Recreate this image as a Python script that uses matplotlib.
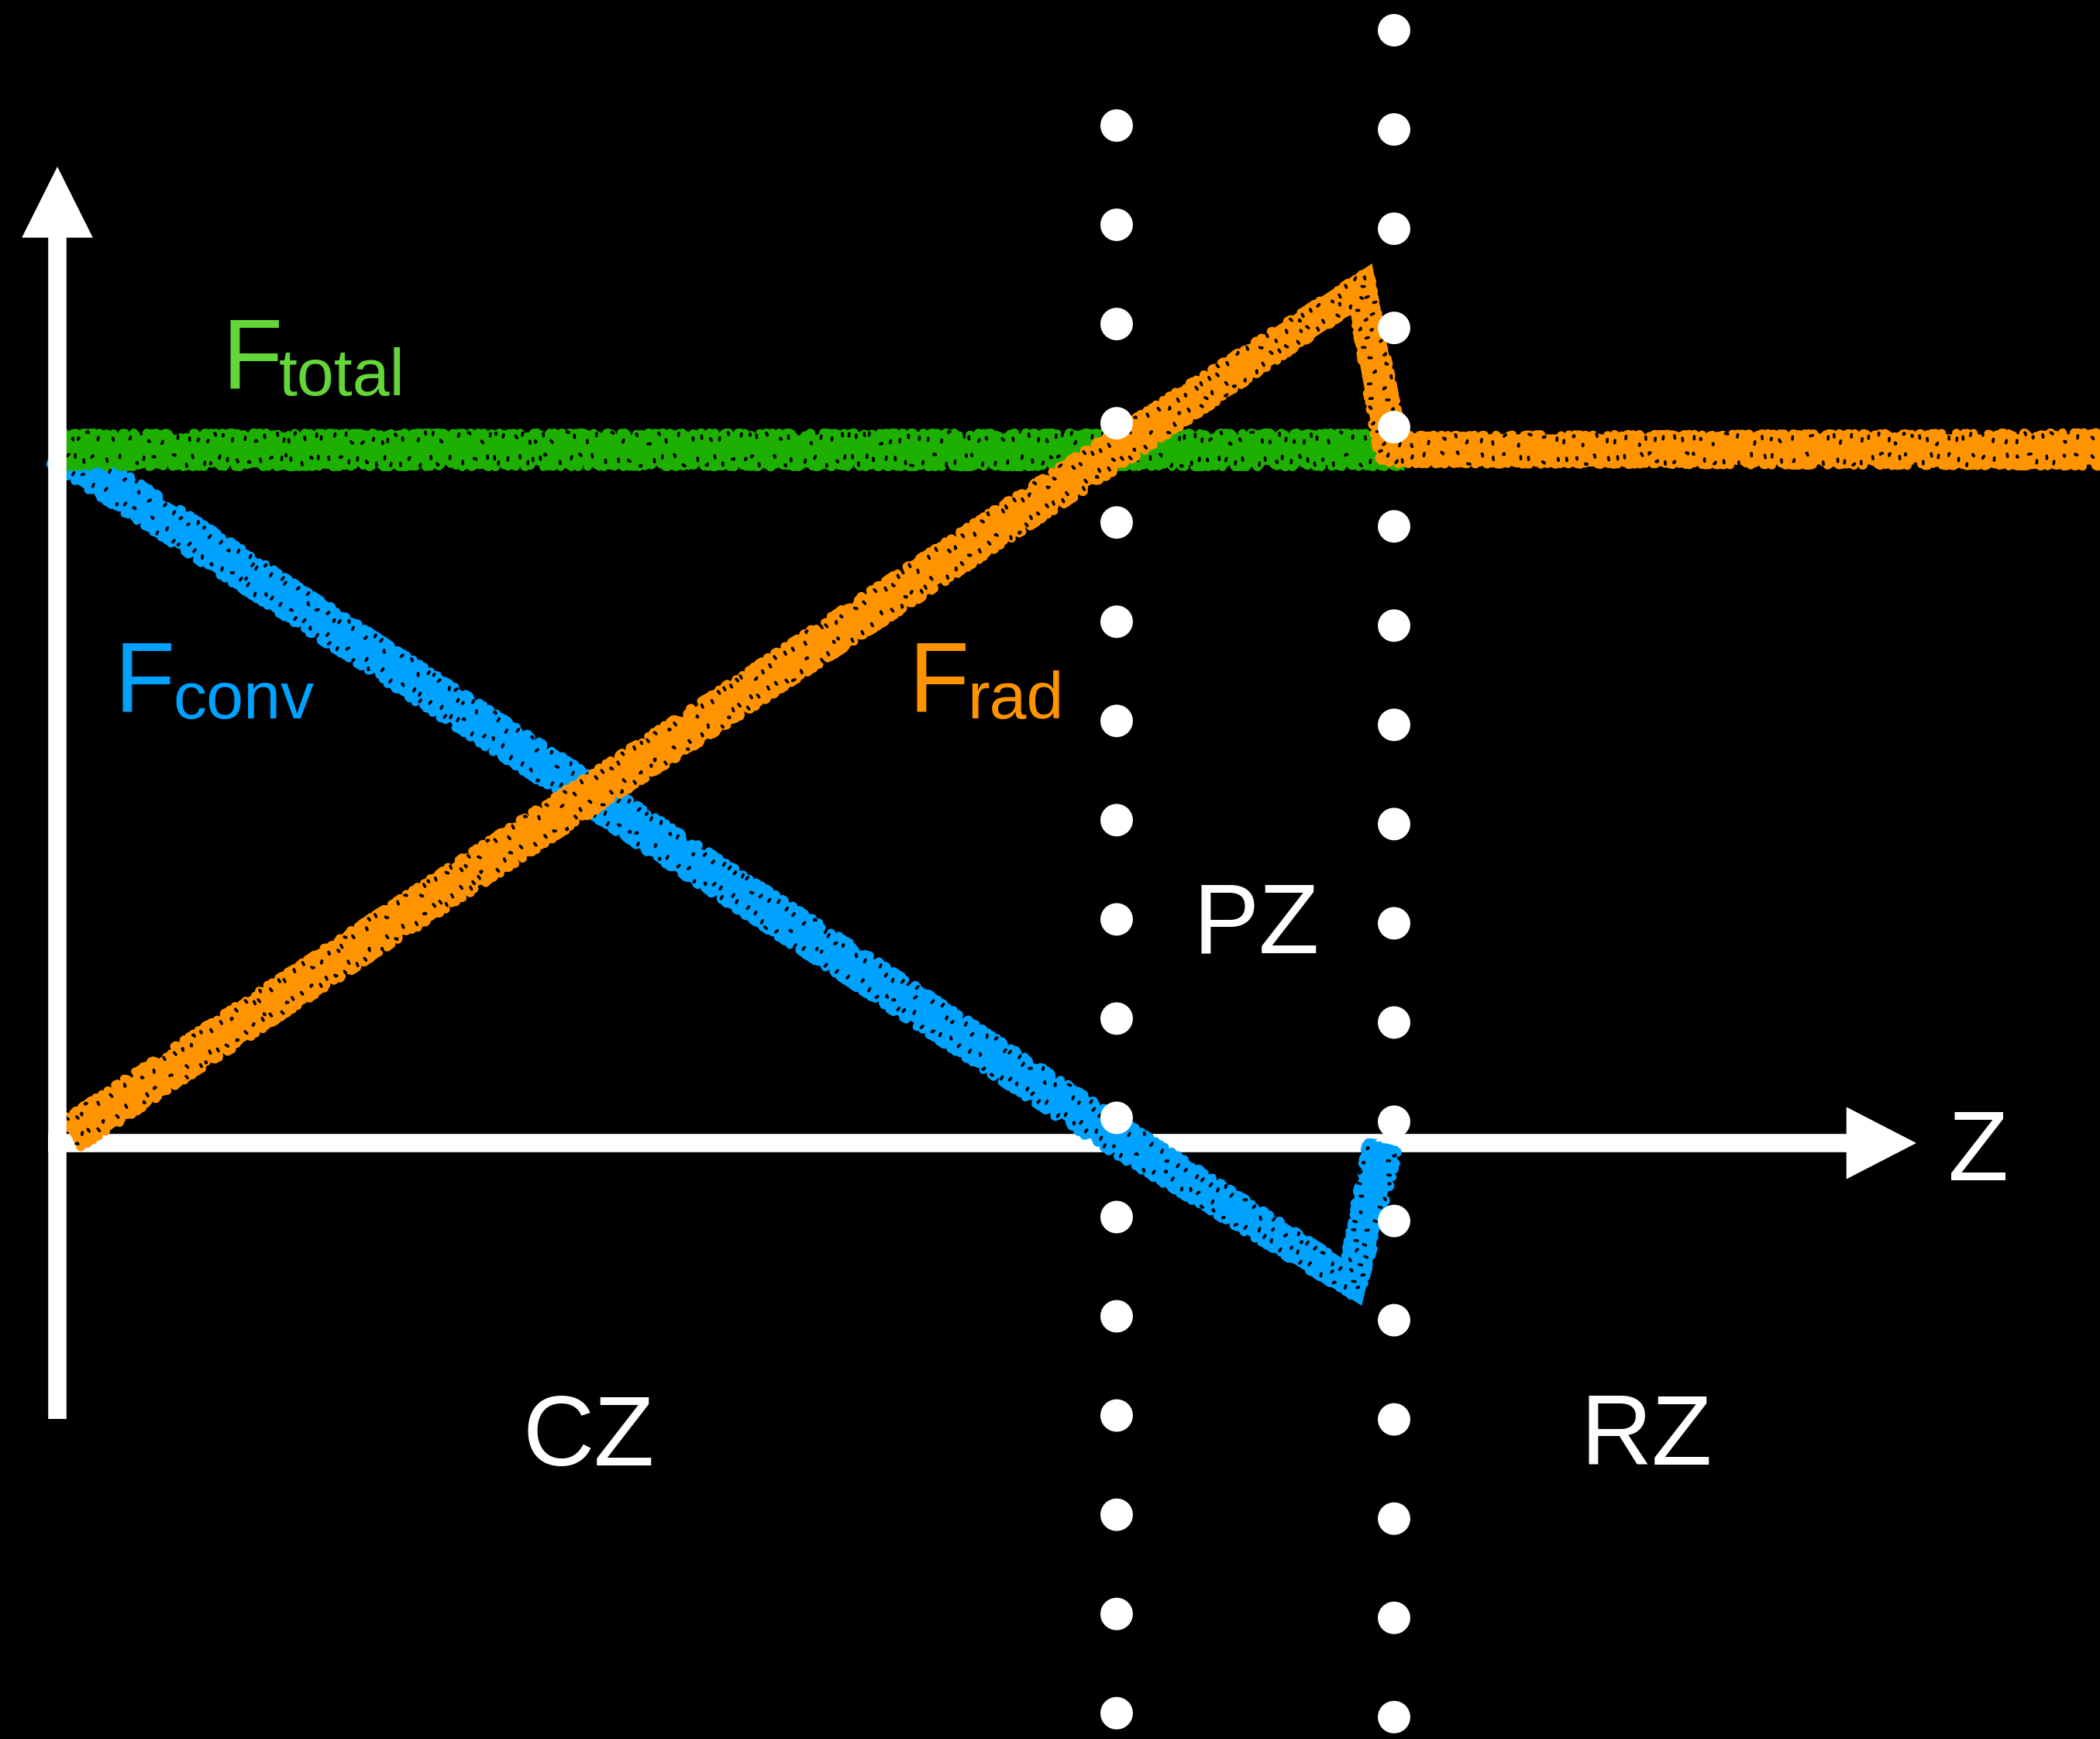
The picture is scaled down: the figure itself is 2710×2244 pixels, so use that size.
import numpy as np
import matplotlib
matplotlib.use('Agg')
import matplotlib.pyplot as plt
from matplotlib.patches import FancyArrowPatch, ArrowStyle

# schematic flux profiles, F_total = 1, base of the convection zone at z = 1
z_total = [0.0, 1.272]
f_total = [1.0, 1.0]
z_conv = [0.0, 1.0, 1.222, 1.252]
f_conv = [1.0, 0.01, -0.2, 0.0]
z_rad = [0.012, 1.0, 1.231, 1.259, 1.95]
f_rad = [0.012, 1.0, 1.232, 1.0, 1.0]

# zone boundaries (CZ | PZ | RZ) and how far up each dotted line goes
z_bounds = [1.0, 1.262]
f_bound_top = [1.467, 1.6045]
zone_names = ['CZ', 'PZ', 'RZ']

c_green_line = '#1EB000'
c_green_text = '#63D638'
c_blue = '#00A2FF'
c_orange = '#FF9300'

# pixel <-> data mapping of the 2710x2244 canvas
X0, SX = 74.0, 1367.0
Y0, SY = 1475.0, 895.0


def px(x, y):
    return (x - X0) / SX, (Y0 - y) / SY


fig = plt.figure(figsize=(27.1, 22.44), dpi=100, facecolor='black')
ax = fig.add_axes([0, 0, 1, 1])
ax.set_facecolor('black')
ax.set_xlim(-X0 / SX, (2710 - X0) / SX)
ax.set_ylim(-(2244 - Y0) / SY, Y0 / SY)
ax.axis('off')

# axes arrows
vstyle = ArrowStyle.Simple(head_length=66, head_width=66, tail_width=17)
hstyle = ArrowStyle.Simple(head_length=65, head_width=67, tail_width=17)
ax.add_patch(FancyArrowPatch(px(74, 1831), px(74, 215), arrowstyle=vstyle,
                             mutation_scale=1, shrinkA=0, shrinkB=0,
                             color='white', lw=0, zorder=5))
ax.add_patch(FancyArrowPatch(px(62, 1475), px(2473, 1475), arrowstyle=hstyle,
                             mutation_scale=1, shrinkA=0, shrinkB=0,
                             color='white', lw=0, zorder=1))


def shifted(z, f, d):
    # polyline moved d pixels sideways
    p = ax.transData.transform(np.column_stack([z, f]))
    seg = np.diff(p, axis=0)
    nrm = np.column_stack([-seg[:, 1], seg[:, 0]])
    nrm /= np.hypot(nrm[:, 0], nrm[:, 1])[:, None]
    vn = np.vstack([nrm[:1], (nrm[:-1] + nrm[1:]) / 2, nrm[-1:]])
    vn /= np.hypot(vn[:, 0], vn[:, 1])[:, None]
    q = p + d * vn
    return ax.transData.inverted().transform(q).T


def chalk(z, f, color, zo):
    # solid core, ragged edges, then a few black specks for the chalk look
    ax.plot(z, f, color=color, lw=28, solid_capstyle='butt',
            solid_joinstyle='miter', zorder=zo)
    for d in (-15, 15):
        zz, ff = shifted(z, f, d)
        ln, = ax.plot(zz, ff, color=color, lw=8, solid_capstyle='butt', zorder=zo)
        ln.set_sketch_params(scale=7, length=5, randomness=70)
    for d, ph in ((-14, 0), (15, 7)):
        zz, ff = shifted(z, f, d)
        ln, = ax.plot(zz, ff, color='black', lw=2.6, ls=(ph, (1, 13)),
                      dash_capstyle='round', zorder=zo)
        ln.set_sketch_params(scale=8, length=14, randomness=90)


chalk(z_conv, f_conv, c_blue, 2)
chalk(z_total, f_total, c_green_line, 3)
chalk(z_rad, f_rad, c_orange, 4)

# dotted zone boundaries
for zb, ft in zip(z_bounds, f_bound_top):
    ax.plot([zb, zb], [ft, -1.0], color='white', lw=30.24,
            ls=(0, (0.001, 128 / 42)), dash_capstyle='round', zorder=6)

font = 'Liberation Sans'
big = 92
small = 62


def label(main, sub, xy_main, xy_sub, color):
    ax.text(*px(*xy_main), main, color=color, fontsize=big, family=font,
            ha='left', va='baseline', zorder=7)
    ax.text(*px(*xy_sub), sub, color=color, fontsize=small, family=font,
            ha='left', va='baseline', zorder=7)


label('F', 'total', (286, 501), (360, 510), c_green_text)
label('F', 'conv', (147, 918), (223, 927), c_blue)
label('F', 'rad', (1172, 918), (1248, 927), c_orange)

zone_pos = [(674, 1891), (1539, 1229), (2039, 1890)]
for name, p in zip(zone_names, zone_pos):
    ax.text(*px(*p), name, color='white', fontsize=big, family=font,
            ha='left', va='baseline', zorder=7)
ax.text(*px(2514, 1523), 'Z', color='white', fontsize=big, family=font,
        ha='left', va='baseline', zorder=7)

fig.savefig('out.png', dpi=100, facecolor='black')
